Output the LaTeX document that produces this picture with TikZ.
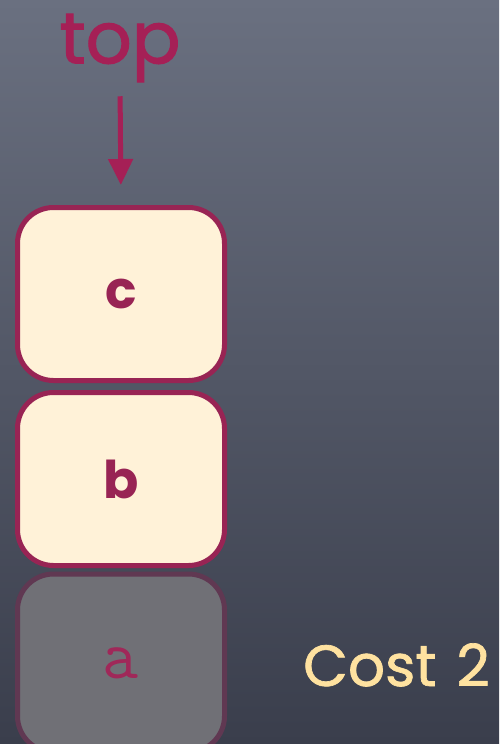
\documentclass[tikz,border=0pt]{standalone}
\usepackage{fontspec}
\setmainfont{Poppins}
\setmonofont{Latin Modern Mono}
\usetikzlibrary{arrows.meta,positioning}
\definecolor{slatetop}{RGB}{106,112,128}
\definecolor{slatemid}{RGB}{84,89,104}
\definecolor{slatebot}{RGB}{58,62,76}
\definecolor{berry}{RGB}{165,32,86}
\definecolor{edge}{RGB}{152,36,84}
\definecolor{cream}{RGB}{255,242,216}
\definecolor{ghostfill}{RGB}{112,112,118}
\definecolor{ghostedge}{RGB}{96,56,82}
\definecolor{costtext}{RGB}{255,226,160}
\tikzset{
  stackbox/.style={draw=edge, fill=cream, line width=5pt, rounded corners=36pt,
    minimum width=207pt, minimum height=173pt, inner sep=0pt,
    text=edge, font=\fontsize{52}{52}\selectfont\bfseries},
  ghostbox/.style={draw=ghostedge, fill=ghostfill, line width=5pt, rounded corners=36pt,
    minimum width=207pt, minimum height=178pt, inner sep=0pt,
    text=berry!90!ghostfill, font=\ttfamily\fontsize{70}{70}\selectfont},
  pointer/.style={draw=berry, line width=5pt, -{Triangle[width=24pt,length=26pt]}},
}
\begin{document}
\begin{tikzpicture}[x=1pt,y=-1pt]
  \useasboundingbox (0,0) rectangle (499,744);
  \begin{scope}
    \clip (0,0) rectangle (499,744);
    % chalkboard background
    \shade[top color=slatetop, middle color=slatemid, bottom color=slatebot] (0,0) rectangle (499,744);

    % the stack
    \node[ghostbox] (a) at (121,663) {a};
    \node[stackbox] (b) at (121,479) {b};
    \node[stackbox] (c) at (121,294) {c};

    % top-of-stack marker
    \node[text=berry, font=\fontsize{72}{72}\selectfont\addfontfeature{FakeBold=1.6}, inner sep=0pt] (toplabel) at (120,48) {top};
    \draw[pointer, shorten <=14pt, shorten >=20pt] (toplabel.south) -- (c.north);

    % cost annotation
    \node[text=costtext, font=\fontsize{58}{58}\selectfont\addfontfeature{FakeBold=1.2}, anchor=base west, inner sep=0pt] (cost) at (303,686) {Cost\hspace{20pt}2};
  \end{scope}
\end{tikzpicture}
\end{document}
